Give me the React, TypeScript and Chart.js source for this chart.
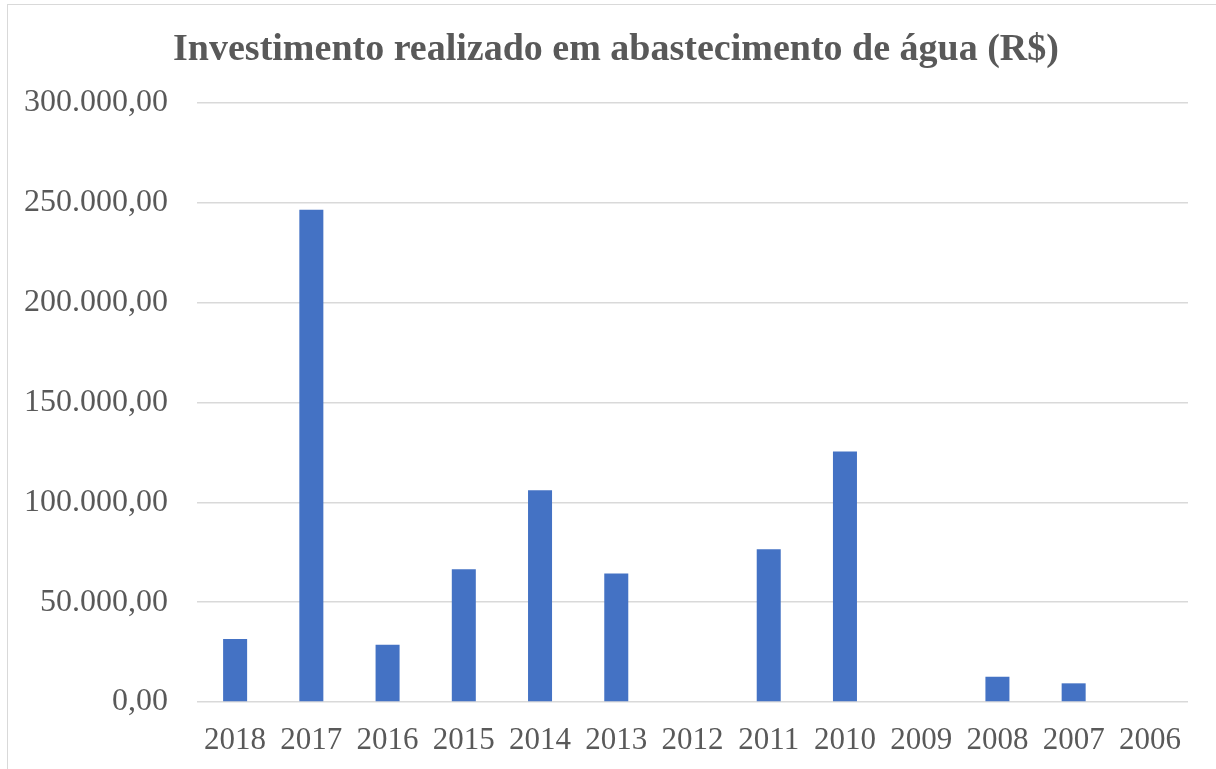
import React, { useEffect, useRef } from "react";
import { Chart, registerables } from "chart.js";

Chart.register(...registerables);

const TITLE = "Investimento realizado em abastecimento de água (R$)";
const YEARS = ["2018", "2017", "2016", "2015", "2014", "2013", "2012", "2011", "2010", "2009", "2008", "2007", "2006"];
const INVESTMENT = [31500, 246500, 28700, 66500, 106000, 64300, 0, 76500, 125500, 0, 12650, 9350, 0];
const Y_MAX = 300000;
const Y_STEP = 50000;

function formatBR(v: number): string {
  const fixed = Math.abs(v).toFixed(2);
  const [intPart, dec] = fixed.split(".");
  const withDots = intPart.replace(/\B(?=(\d{3})+(?!\d))/g, ".");
  return (v < 0 ? "-" : "") + withDots + "," + dec;
}

const FONT = "'Liberation Serif', 'Times New Roman', serif";
const TEXT_COLOR = "#595959";

const titlePlugin = {
  id: "customTitle",
  afterDraw(chart: any) {
    const ctx = chart.ctx;
    ctx.save();
    ctx.font = `bold 38px ${FONT}`;
    ctx.fillStyle = TEXT_COLOR;
    ctx.textAlign = "center";
    ctx.textBaseline = "alphabetic";
    ctx.fillText(TITLE, 616, 60);
    ctx.restore();
  },
};

export default function App() {
  const ref = useRef<HTMLCanvasElement | null>(null);

  useEffect(() => {
    if (!ref.current) return;
    const chart = new Chart(ref.current, {
      type: "bar",
      data: {
        labels: YEARS,
        datasets: [
          {
            data: INVESTMENT,
            backgroundColor: "#4472C4",
            borderWidth: 0,
            categoryPercentage: 1,
            barPercentage: 0.315,
          },
        ],
      },
      plugins: [titlePlugin],
      options: {
        animation: false,
        responsive: false,
        maintainAspectRatio: false,
        layout: { padding: { left: 0, right: 28, top: 103, bottom: 0 } },
        plugins: {
          legend: { display: false },
          tooltip: { enabled: false },
          title: { display: false },
        },
        scales: {
          x: {
            grid: { display: false, drawTicks: false },
            border: { display: false },
            ticks: {
              color: TEXT_COLOR,
              font: { family: FONT, size: 31, lineHeight: 1.2 },
              padding: 20,
              maxRotation: 0,
              autoSkip: false,
            },
            afterFit: (scale: any) => {
              scale.height = 67;
            },
          },
          y: {
            min: 0,
            max: Y_MAX,
            grid: { color: "#d9d9d9", lineWidth: 1.5, drawTicks: false },
            border: { display: false },
            ticks: {
              stepSize: Y_STEP,
              color: TEXT_COLOR,
              font: { family: FONT, size: 32, lineHeight: 1.2 },
              padding: 29,
              callback: (v: any) => formatBR(Number(v)),
            },
            afterFit: (scale: any) => {
              scale.width = 197;
            },
          },
        },
      },
    });
    return () => chart.destroy();
  }, []);

  return (
    <div style={{ position: "fixed", left: 0, top: 0, width: 1216, height: 769, background: "#fff", overflow: "hidden" }}>
      <div
        style={{
          position: "absolute",
          left: 7,
          top: 4,
          width: 1216,
          height: 800,
          borderLeft: "1.5px solid #d9d9d9",
          borderTop: "1.5px solid #d9d9d9",
        }}
      />
      <canvas ref={ref} width={1216} height={769} style={{ position: "absolute", left: 0, top: 0, width: 1216, height: 769 }} />
    </div>
  );
}
